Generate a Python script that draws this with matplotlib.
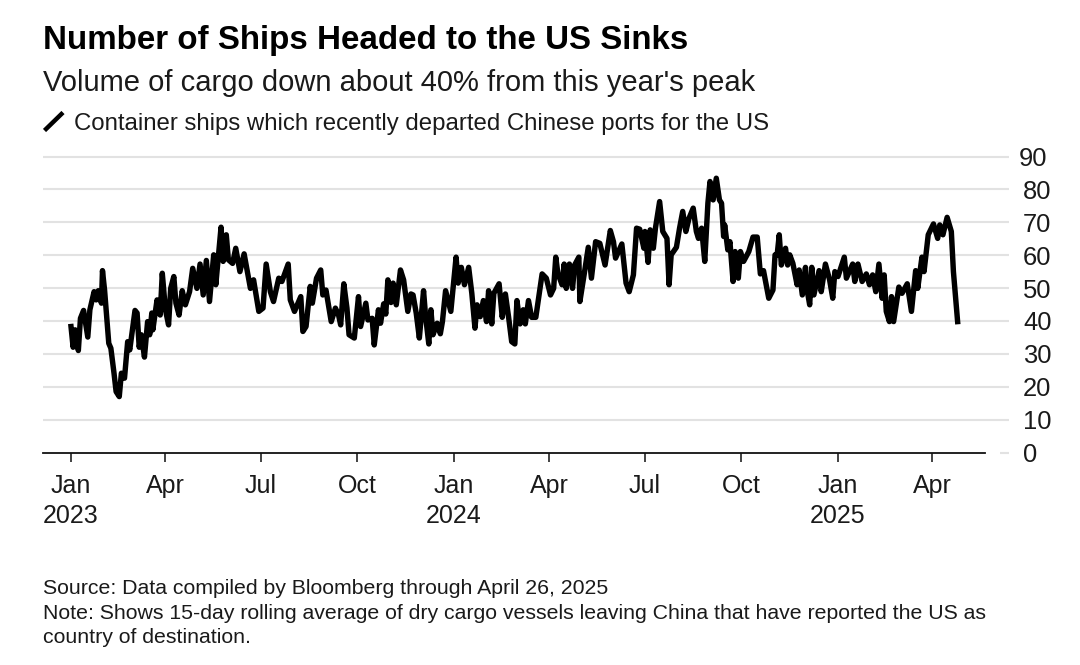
import matplotlib
matplotlib.use("Agg")
import numpy as np
import pandas as pd
import matplotlib.pyplot as plt
from matplotlib.transforms import ScaledTranslation

plt.rcParams['font.family'] = ['Liberation Sans', 'DejaVu Sans']

# days since 1 Jan 2023
days = [0,2,4,7,9,12,16,18,22,24,26,29,30,32,36,38,41,43,46,48,51,54,56,61,63,65,67,70,73,75,77,78,82,85,87,90,93,95,98,100,
        103,106,109,113,116,120,123,126,129,132,136,138,143,145,148,150,154,157,161,165,171,174,179,183,186,190,193,198,201,207,
        209,213,219,221,224,228,230,234,238,240,243,248,252,255,257,260,263,265,270,274,276,281,283,287,289,293,295,298,300,302,
        305,307,310,314,317,321,324,326,329,332,336,338,341,343,345,349,352,354,357,362,367,369,372,375,379,382,385,387,390,393,
        396,398,401,403,408,411,414,417,420,423,425,428,431,433,436,439,443,449,453,457,460,462,464,468,470,472,475,478,480,484,
        485,489,493,496,500,504,509,514,517,519,525,529,532,536,539,542,546,547,550,552,555,557,561,564,568,570,572,577,580,583,
        586,589,593,596,598,601,604,607,609,612,615,618,620,622,623,626,628,631,633,636,638,641,646,650,654,657,660,665,669,671,
        673,675,677,681,683,685,688,692,694,697,700,701,704,706,708,713,715,719,723,726,728,731,737,739,745,747,750,754,758,761,
        764,767,770,773,775,777,780,782,784,789,792,797,801,805,807,811,813,817,822,826,828,831,835,839,841,843,845]
ships = [38.3,32.0,37.3,31.0,40.8,43.2,35.1,43.4,48.9,46.4,49.2,45.4,55.3,49.4,33.2,31.7,24.1,18.5,17.0,24.1,22.6,33.7,31.2,43.2,42.4,32.0,35.8,29.0,39.8,35.8,42.4,37.3,46.4,41.8,54.5,43.4,38.8,49.9,53.5,45.4,
         41.8,49.2,44.9,48.9,56.0,49.9,57.3,47.9,58.4,45.9,60.1,51.0,68.5,58.1,66.2,58.6,57.5,62.1,55.0,60.4,49.9,52.5,42.9,43.9,57.3,48.9,45.9,53.0,52.0,57.3,
         46.4,42.9,47.4,36.8,38.3,50.5,45.4,53.0,55.5,47.9,49.4,39.8,43.9,41.8,38.8,51.3,43.9,35.8,34.8,47.4,38.3,45.4,40.3,40.8,32.7,43.4,39.3,45.2,42.1,52.5,
         45.6,51.5,44.9,55.5,52.5,42.9,48.2,47.9,42.4,34.8,49.2,41.3,33.0,43.4,35.8,39.3,36.1,39.8,49.2,42.9,59.4,51.5,56.3,51.0,56.3,48.4,37.8,44.9,41.3,46.2,
         39.8,49.2,39.1,48.4,51.3,41.1,48.2,41.3,33.7,33.0,46.2,39.1,43.4,39.1,46.2,41.1,41.1,54.3,53.0,47.9,49.9,59.4,54.5,51.0,57.3,49.9,57.3,49.9,57.0,59.4,
         45.9,54.0,62.4,53.0,64.1,63.6,57.0,67.5,64.1,59.1,63.4,51.5,48.9,54.0,68.2,67.9,62.1,67.2,57.8,67.7,62.1,68.2,76.3,67.2,65.1,51.0,60.1,62.4,68.2,73.3,
         67.2,71.2,74.3,67.2,65.1,68.2,58.1,75.8,82.4,76.8,83.4,76.8,75.8,65.7,69.2,61.6,64.1,52.0,61.1,53.0,61.1,58.1,61.1,65.5,65.5,54.3,55.3,46.9,49.4,60.1,
         60.1,66.2,57.0,62.1,57.0,60.1,57.5,51.0,55.5,47.9,56.3,50.5,44.9,56.3,47.9,55.3,48.9,57.3,52.5,46.9,55.0,53.5,59.4,53.0,57.3,52.0,57.3,52.0,54.3,51.0,
         54.0,48.9,57.3,46.9,54.0,42.9,39.8,47.4,39.8,50.3,48.4,51.3,42.9,55.3,49.9,59.4,55.0,66.2,69.5,65.1,69.2,66.2,71.5,67.2,55.0,47.4,39.8]

y_ticks = [0,10,20,30,40,50,60,70,80,90]
x_tick_dates = ['2023-01-01','2023-04-01','2023-07-01','2023-10-01','2024-01-01','2024-04-01',
                '2024-07-01','2024-10-01','2025-01-01','2025-04-01']
x_tick_labels = ['Jan\n2023','Apr','Jul','Oct','Jan\n2024','Apr','Jul','Oct','Jan\n2025','Apr']

title = 'Number of Ships Headed to the US Sinks'
subtitle = "Volume of cargo down about 40% from this year's peak"
legend_text = 'Container ships which recently departed Chinese ports for the US'
source = 'Source: Data compiled by Bloomberg through April 26, 2025'
note = 'Note: Shows 15-day rolling average of dry cargo vessels leaving China that have reported the US as\ncountry of destination.'

dates = pd.Timestamp('2023-01-01') + pd.to_timedelta(days, unit='D')
ticks = pd.to_datetime(x_tick_dates)

W, H = 1080, 665
fig = plt.figure(figsize=(W/100, H/100), dpi=100)
# plot box in pixels: left 43, right 985, y=0 at 452.5, y=90 at 156.5
ax = fig.add_axes([43/W, 1-452.5/H, (985-43)/W, (452.5-156.5)/H])

# x limits follow from Jan 2023 at 71 px and Jan 2025 at 838 px
px_per_day = (838-71)/731
x0 = pd.Timestamp('2023-01-01') - pd.to_timedelta((71-43)/px_per_day, unit='D')
x1 = pd.Timestamp('2023-01-01') + pd.to_timedelta((985-71)/px_per_day, unit='D')
ax.set_xlim(x0, x1)
ax.set_ylim(0, 90)

grid_end = (1009-43)/(985-43)
for v in y_ticks[1:]:
    ax.plot([0, grid_end], [v, v], transform=ax.get_yaxis_transform(), color='#e2e2e2',
            lw=1.5, clip_on=False, zorder=1, solid_capstyle='butt')
# stub of the zero gridline right of the axis
ax.plot([(1000-43)/(985-43), grid_end], [0, 0], transform=ax.get_yaxis_transform(), color='#e2e2e2',
        lw=1.5, clip_on=False, zorder=1, solid_capstyle='butt')
ax.plot(dates, ships, color='black', lw=3.9, solid_joinstyle='round', zorder=3)

for s in ['top','right','left']:
    ax.spines[s].set_visible(False)
ax.spines['bottom'].set_linewidth(1.3)
ax.spines['bottom'].set_color('#111111')

ax.set_xticks(ticks)
ax.set_xticklabels(x_tick_labels, fontsize=18.0, color='#1a1a1a', linespacing=1.3)
ax.tick_params(axis='x', length=6.5, width=1.2, color='#222222', pad=9)
ax.yaxis.tick_right()
ax.set_yticks(y_ticks)
ax.set_yticklabels(y_ticks, fontsize=18.4, color='#1a1a1a', ha='left')
ax.tick_params(axis='y', length=0, pad=27.5)
# the 90 sits further left than the other labels
lab90 = ax.get_yticklabels()[-1]
lab90.set_transform(lab90.get_transform() + ScaledTranslation(-3.5/72, 0, fig.dpi_scale_trans))

def ftext(px, py, s, **kw):
    fig.text(px/W, 1-py/H, s, va='baseline', ha='left', **kw)

ftext(43, 49.5, title, fontsize=23.9, fontweight='bold', color='black')
ftext(43, 91, subtitle, fontsize=21.0, color='#1a1a1a')
fig.add_artist(plt.Line2D([44.5/W, 63/W], [1-130.5/H, 1-112.5/H], color='black', lw=3.2, solid_capstyle='butt'))
ftext(74, 130, legend_text, fontsize=17.3, color='#1a1a1a')
ftext(43, 594, source, fontsize=15.3, color='#1a1a1a')
ftext(43, 619, note.split('\n')[0], fontsize=15.3, color='#1a1a1a')
ftext(43, 643, note.split('\n')[1], fontsize=15.3, color='#1a1a1a')

fig.savefig('out.png', dpi=100)
